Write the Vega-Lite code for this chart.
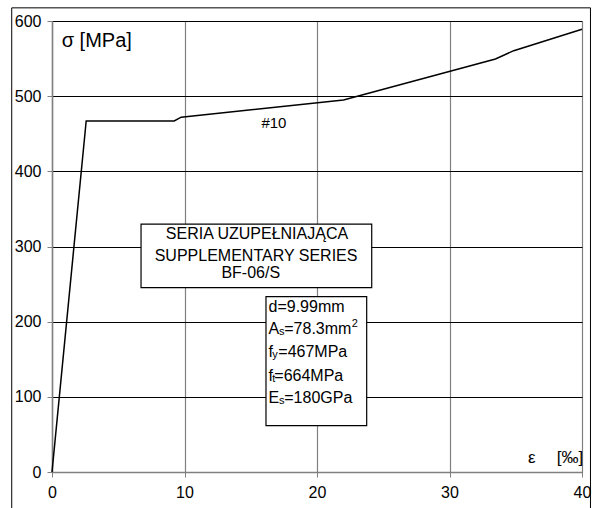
{
  "$schema": "https://vega.github.io/schema/vega-lite/v6.json",
  "autosize": {"type": "none"},
  "padding": {"left": 52, "top": 21, "right": 10, "bottom": 36},
  "width": 530,
  "height": 451,
  "background": "white",
  "config": {
    "view": {"stroke": null},
    "font": "Liberation Sans",
    "text": {"font": "Liberation Sans", "color": "black"}
  },
  "datasets": {
    "curve": [
      {"strain": 0, "stress": 0},
      {"strain": 2.58, "stress": 467},
      {"strain": 9.22, "stress": 467},
      {"strain": 9.75, "stress": 472},
      {"strain": 22.0, "stress": 495},
      {"strain": 33.47, "stress": 549.5},
      {"strain": 34.85, "stress": 560.5},
      {"strain": 40.0, "stress": 589}
    ],
    "boxes": [
      {"x": 6.72, "x2": 24.13, "y": 329.9, "y2": 245.2},
      {"x": 16.15, "x2": 23.75, "y": 233.2, "y2": 61.6}
    ],
    "notes": [
      {"kind": "big", "x": 0.73, "y": 565.8, "text": "σ [MPa]"},
      {"kind": "eps", "x": 35.92, "y": 12.5, "text": "ε"},
      {"kind": "eps", "x": 38.09, "y": 12.5, "text": "[‰]"},
      {"kind": "tag", "x": 16.75, "y": 464.3, "text": "#10"},
      {"kind": "center", "x": 15.47, "y": 316.9, "text": "SERIA UZUPEŁNIAJĄCA"},
      {"kind": "center", "x": 15.4, "y": 287.3, "text": "SUPPLEMENTARY SERIES"},
      {"kind": "center", "x": 15.0, "y": 264.3, "text": "BF-06/S"},
      {"kind": "base", "x": 16.34, "y": 213.0, "text": "d=9.99mm"},
      {"kind": "base", "x": 16.34, "y": 183.2, "text": "A"},
      {"kind": "base", "x": 17.53, "y": 183.2, "text": "=78.3mm"},
      {"kind": "base", "x": 16.34, "y": 152.6, "text": "f"},
      {"kind": "base", "x": 17.08, "y": 152.6, "text": "=467MPa"},
      {"kind": "base", "x": 16.34, "y": 121.5, "text": "f"},
      {"kind": "base", "x": 16.78, "y": 121.5, "text": "=664MPa"},
      {"kind": "base", "x": 16.34, "y": 91.4, "text": "E"},
      {"kind": "base", "x": 17.53, "y": 91.4, "text": "=180GPa"},
      {"kind": "sub", "x": 17.13, "y": 183.2, "text": "s"},
      {"kind": "sub", "x": 16.63, "y": 152.6, "text": "y"},
      {"kind": "sub", "x": 16.63, "y": 121.5, "text": "t"},
      {"kind": "sub", "x": 17.13, "y": 91.4, "text": "s"},
      {"kind": "sup", "x": 22.62, "y": 193.3, "text": "2"}
    ]
  },
  "layer": [
    {
      "data": {"values": [{}]},
      "mark": {"type": "rect", "filled": false, "stroke": "black", "strokeWidth": 1},
      "encoding": {
        "x": {"datum": -3.04, "type": "quantitative", "scale": {"domain": [0, 40]}},
        "x2": {"datum": 40.64},
        "y": {"datum": 617.5, "type": "quantitative", "scale": {"domain": [0, 600]}},
        "y2": {"datum": -60}
      }
    },
    {
      "data": {"name": "curve"},
      "mark": {"type": "line", "color": "black", "strokeWidth": 1.5},
      "encoding": {
        "x": {
          "field": "strain", "type": "quantitative",
          "scale": {"domain": [0, 40], "nice": false, "zero": false},
          "axis": {
            "title": null, "values": [0, 10, 20, 30, 40],
            "grid": true, "gridColor": "#808080", "gridWidth": 1.2, "gridOpacity": 1,
            "domainColor": "#808080", "domainWidth": 1.5,
            "tickColor": "#808080", "tickSize": 5, "tickWidth": 1,
            "labelFont": "Liberation Sans", "labelFontSize": 16, "labelColor": "black",
            "labelPadding": 7, "labelFlush": false
          }
        },
        "y": {
          "field": "stress", "type": "quantitative",
          "scale": {"domain": [0, 600], "nice": false},
          "axis": {
            "title": null, "values": [0, 100, 200, 300, 400, 500, 600],
            "grid": true, "gridColor": "black", "gridWidth": 1, "gridOpacity": 1,
            "domainColor": "#808080", "domainWidth": 1.5,
            "tickColor": "#808080", "tickSize": 5, "tickWidth": 1,
            "labelFont": "Liberation Sans", "labelFontSize": 16, "labelColor": "black",
            "labelPadding": 6, "labelFlush": false
          }
        }
      }
    },
    {
      "data": {"name": "boxes"},
      "mark": {"type": "rect", "fill": "white", "stroke": "black", "strokeWidth": 1.2},
      "encoding": {
        "x": {"field": "x", "type": "quantitative"},
        "x2": {"field": "x2"},
        "y": {"field": "y", "type": "quantitative"},
        "y2": {"field": "y2"}
      }
    },
    {
      "data": {"name": "notes"},
      "transform": [{"filter": "datum.kind === 'big'"}],
      "mark": {"type": "text", "align": "left", "baseline": "alphabetic", "fontSize": 20},
      "encoding": {
        "x": {"field": "x", "type": "quantitative"},
        "y": {"field": "y", "type": "quantitative"},
        "text": {"field": "text"}
      }
    },
    {
      "data": {"name": "notes"},
      "transform": [{"filter": "datum.kind === 'eps'"}],
      "mark": {"type": "text", "align": "left", "baseline": "alphabetic", "fontSize": 17},
      "encoding": {
        "x": {"field": "x", "type": "quantitative"},
        "y": {"field": "y", "type": "quantitative"},
        "text": {"field": "text"}
      }
    },
    {
      "data": {"name": "notes"},
      "transform": [{"filter": "datum.kind === 'tag'"}],
      "mark": {"type": "text", "align": "center", "baseline": "middle", "fontSize": 15},
      "encoding": {
        "x": {"field": "x", "type": "quantitative"},
        "y": {"field": "y", "type": "quantitative"},
        "text": {"field": "text"}
      }
    },
    {
      "data": {"name": "notes"},
      "transform": [{"filter": "datum.kind === 'center'"}],
      "mark": {"type": "text", "align": "center", "baseline": "middle", "fontSize": 16},
      "encoding": {
        "x": {"field": "x", "type": "quantitative"},
        "y": {"field": "y", "type": "quantitative"},
        "text": {"field": "text"}
      }
    },
    {
      "data": {"name": "notes"},
      "transform": [{"filter": "datum.kind === 'base'"}],
      "mark": {"type": "text", "align": "left", "baseline": "alphabetic", "fontSize": 16},
      "encoding": {
        "x": {"field": "x", "type": "quantitative"},
        "y": {"field": "y", "type": "quantitative"},
        "text": {"field": "text"}
      }
    },
    {
      "data": {"name": "notes"},
      "transform": [{"filter": "datum.kind === 'sub'"}],
      "mark": {"type": "text", "align": "left", "baseline": "alphabetic", "fontSize": 11, "dy": 1},
      "encoding": {
        "x": {"field": "x", "type": "quantitative"},
        "y": {"field": "y", "type": "quantitative"},
        "text": {"field": "text"}
      }
    },
    {
      "data": {"name": "notes"},
      "transform": [{"filter": "datum.kind === 'sup'"}],
      "mark": {"type": "text", "align": "left", "baseline": "alphabetic", "fontSize": 11},
      "encoding": {
        "x": {"field": "x", "type": "quantitative"},
        "y": {"field": "y", "type": "quantitative"},
        "text": {"field": "text"}
      }
    }
  ]
}
